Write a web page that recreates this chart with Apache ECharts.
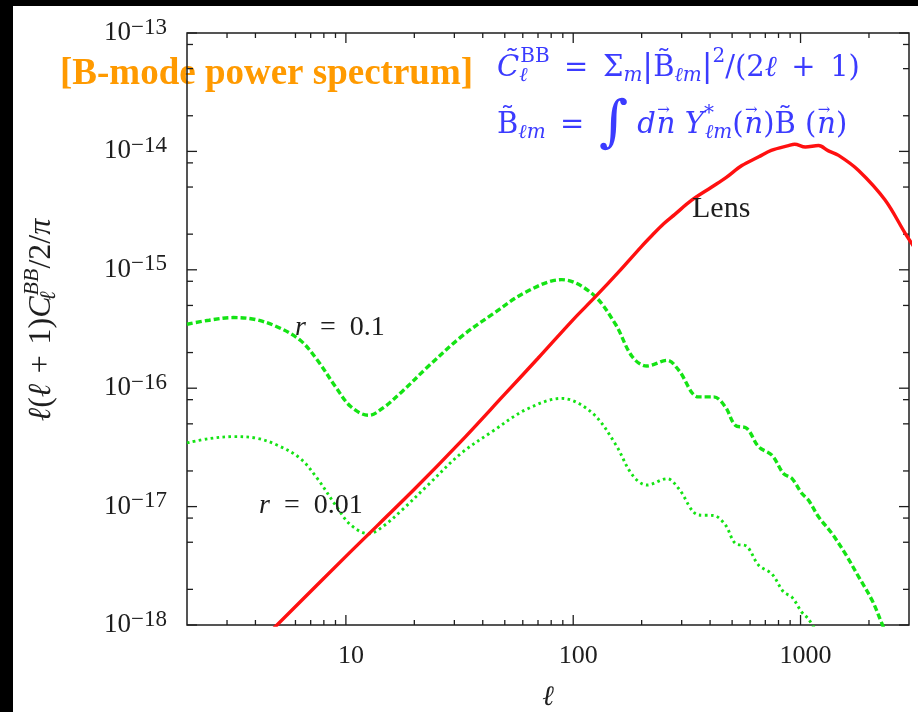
<!DOCTYPE html>
<html>
<head>
<meta charset="utf-8">
<title>B-mode power spectrum</title>
<script src="https://cdn.jsdelivr.net/npm/echarts@6.0.0/dist/echarts.min.js"></script>
<style>
  html, body { margin: 0; padding: 0; background: #ffffff; }
  #chart { width: 918px; height: 712px; }
</style>
</head>
<body>
<div id="chart"></div>
<script>
// Lensing B-mode spectrum, l(l+1)C_l^BB/2/pi
const ellLens = [4.6, 10, 20, 31.4, 50, 70, 100, 125, 160, 200, 222, 250, 280, 332, 407, 470, 552, 655, 743, 885, 942, 1050, 1200, 1327, 1470, 1800, 2350, 2900, 3200];
const lensPower = [8.6e-19, 3.8e-18, 1.4e-17, 3.4e-17, 8.9e-17, 1.79e-16, 3.8e-16, 5.9e-16, 9.8e-16, 1.58e-15, 1.95e-15, 2.45e-15, 2.94e-15, 3.87e-15, 5.0e-15, 6.0e-15, 7.6e-15, 9.0e-15, 1.02e-14, 1.12e-14, 1.15e-14, 1.09e-14, 1.12e-14, 1.01e-14, 9.25e-15, 6.9e-15, 3.9e-15, 2.0e-15, 1.5e-15];

// Primordial (tensor) B-modes, r = 0.1
const ellR01 = [2, 2.5, 3.2, 4, 5, 6.3, 7.5, 9, 10.5, 12.6, 14.7, 17.6, 22.8, 32, 44, 62, 89, 121, 153, 182, 211, 259, 291, 356, 415, 467, 516, 581, 654, 748, 842, 916, 1014, 1085, 1200, 1373, 1573, 1800, 2060, 2279, 2450];
const r01Power = [3.47e-16, 3.75e-16, 3.95e-16, 3.8e-16, 3.29e-16, 2.54e-16, 1.72e-16, 1.03e-16, 7.0e-17, 5.9e-17, 6.9e-17, 9.3e-17, 1.5e-16, 2.7e-16, 4.2e-16, 6.5e-16, 8.26e-16, 6.3e-16, 3.5e-16, 1.84e-16, 1.54e-16, 1.72e-16, 1.42e-16, 8.45e-17, 8.45e-17, 6.95e-17, 4.87e-17, 4.57e-17, 3.2e-17, 2.72e-17, 1.9e-17, 1.73e-17, 1.29e-17, 1.13e-17, 8.2e-18, 5.94e-18, 4.0e-18, 2.56e-18, 1.63e-18, 1.03e-18, 7.2e-19];

// Primordial (tensor) B-modes, r = 0.01
const ellR001 = [2, 2.5, 3.2, 4, 5, 6.3, 7.5, 9, 10.5, 12.6, 14.7, 17.6, 22.8, 32, 44, 62, 89, 121, 153, 182, 211, 259, 291, 356, 415, 467, 516, 581, 654, 748, 842, 916, 1014, 1085, 1200];
const r001Power = [3.45e-17, 3.75e-17, 3.9e-17, 3.8e-17, 3.3e-17, 2.55e-17, 1.72e-17, 1.03e-17, 7.0e-18, 5.9e-18, 6.9e-18, 9.3e-18, 1.5e-17, 2.8e-17, 4.3e-17, 6.6e-17, 8.2e-17, 6.2e-17, 3.4e-17, 1.85e-17, 1.52e-17, 1.72e-17, 1.42e-17, 8.5e-18, 8.4e-18, 7.0e-18, 4.9e-18, 4.6e-18, 3.2e-18, 2.7e-18, 1.9e-18, 1.72e-18, 1.28e-18, 1.12e-18, 8.2e-19];

// Tick positions on the log axes
const xMajorTicks = [10, 100, 1000];
const xMinorTicks = [3, 4, 6, 7, 8, 9, 20, 30, 40, 50, 60, 70, 80, 90, 200, 300, 400, 500, 600, 700, 800, 900, 2000];
const yMajorTicks = [1e-18, 1e-17, 1e-16, 1e-15, 1e-14, 1e-13];
const yMinorTicks = [2e-18, 5e-18, 8e-18, 2e-17, 5e-17, 8e-17, 2e-16, 5e-16, 8e-16, 2e-15, 5e-15, 8e-15, 2e-14, 5e-14, 8e-14];

const X_MIN = 2, X_MAX = 3000, Y_MIN = 1e-18, Y_MAX = 1e-13;

const SERIF = "'Liberation Serif', serif";
const MATH = "'DejaVu Serif', 'Liberation Serif', serif";
const INK = '#1e1e1e';
const GREEN = '#14e314';
const RED = '#ff1010';
const BLUE = '#3b3bff';
const ORANGE = '#ff9a00';

const zip = (xs, ys) => ys.map((y, i) => [xs[i], y]);

// tick marks on all four sides of the frame
const tickData = [];
xMajorTicks.forEach(v => tickData.push([v, Y_MIN, 0]));
xMinorTicks.forEach(v => tickData.push([v, Y_MIN, 1]));
yMajorTicks.forEach(v => tickData.push([X_MIN, v, 2]));
yMinorTicks.forEach(v => tickData.push([X_MIN, v, 3]));

function renderTick(params, api) {
  const kind = api.value(2);
  const cs = params.coordSys;
  const style = { stroke: INK, lineWidth: 1.3 };
  if (kind < 2) {
    const px = api.coord([api.value(0), Y_MIN])[0];
    const len = kind === 0 ? 10 : 5;
    const bottom = cs.y + cs.height, top = cs.y;
    return { type: 'group', children: [
      { type: 'line', shape: { x1: px, y1: bottom, x2: px, y2: bottom - len }, style },
      { type: 'line', shape: { x1: px, y1: top, x2: px, y2: top + len }, style }
    ] };
  }
  const py = api.coord([X_MIN, api.value(1)])[1];
  const len = kind === 2 ? 10 : 6;
  const left = cs.x, right = cs.x + cs.width;
  return { type: 'group', children: [
    { type: 'line', shape: { x1: left, y1: py, x2: left + len, y2: py }, style },
    { type: 'line', shape: { x1: right, y1: py, x2: right - len, y2: py }, style }
  ] };
}

// rich-text styles for the formulas (sup raised / sub lowered through padding)
const mathRich = {
  n: { fontFamily: MATH, fontSize: 29, fill: BLUE },
  i: { fontFamily: MATH, fontSize: 29, fontStyle: 'italic', fill: BLUE },
  sp: { fontFamily: MATH, fontSize: 20, fill: BLUE, padding: [0, 0, 22, 0] },
  spw: { fontFamily: MATH, fontSize: 20, fill: BLUE, padding: [0, 0, 22, 0], width: 1 },
  sb: { fontFamily: MATH, fontSize: 20, fontStyle: 'italic', fill: BLUE, padding: [16, 0, 0, 0] },
  sbw: { fontFamily: MATH, fontSize: 20, fontStyle: 'italic', fill: BLUE, padding: [16, 0, 0, 0], width: 1 },
  arw: { fontFamily: MATH, fontSize: 15, fill: BLUE, padding: [0, 0, 30, 0], width: 1 },
  bar: { fontFamily: MATH, fontSize: 32, fill: BLUE },
  int: { fontFamily: MATH, fontSize: 56, fill: BLUE }
};

const labelRich = {
  i: { fontFamily: SERIF, fontSize: 28, fontStyle: 'italic', fill: INK },
  n: { fontFamily: SERIF, fontSize: 28, fill: INK }
};

const yTitleRich = {
  i: { fontFamily: SERIF, fontSize: 32, fontStyle: 'italic', fill: INK },
  n: { fontFamily: SERIF, fontSize: 32, fill: INK },
  sp: { fontFamily: SERIF, fontSize: 22, fontStyle: 'italic', fill: INK, padding: [0, 0, 20, 0] },
  sbw: { fontFamily: SERIF, fontSize: 22, fontStyle: 'italic', fill: INK, padding: [14, 0, 0, 0], width: 1 }
};

const chart = echarts.init(document.getElementById('chart'), null, { renderer: 'canvas' });

chart.setOption({
  backgroundColor: '#ffffff',
  animation: false,
  grid: {
    left: 187, right: 9, top: 33, bottom: 87,
    outerBoundsMode: 'none', containLabel: false,
    show: true, borderColor: INK, borderWidth: 1.5,
    backgroundColor: 'transparent', z: 3
  },
  xAxis: {
    type: 'log', logBase: 10, min: X_MIN, max: X_MAX,
    axisLine: { show: false }, axisTick: { show: false },
    splitLine: { show: false }, minorTick: { show: false },
    axisLabel: {
      margin: 18, fontFamily: SERIF, fontSize: 26, color: INK, padding: [0, 0, 0, 10],
      formatter: v => {
        const e = Math.log10(v);
        return Math.abs(e - Math.round(e)) < 1e-6 ? String(Math.round(v)) : '';
      }
    },
    name: '\u2113', nameLocation: 'middle', nameGap: 59,
    nameTextStyle: { fontFamily: SERIF, fontStyle: 'italic', fontSize: 28, color: INK }
  },
  yAxis: {
    type: 'log', logBase: 10, min: Y_MIN, max: Y_MAX,
    axisLine: { show: false }, axisTick: { show: false },
    splitLine: { show: false }, minorTick: { show: false },
    axisLabel: {
      margin: 20,
      formatter: v => '{b|10}{s|\u2212' + (-Math.round(Math.log10(v))) + '}',
      rich: {
        b: { fontFamily: SERIF, fontSize: 27, color: INK },
        s: { fontFamily: SERIF, fontSize: 23, color: INK, padding: [0, 0, 11, 0] }
      }
    }
  },
  series: [
    {
      type: 'custom', name: 'ticks', data: tickData, renderItem: renderTick,
      encode: { x: 0, y: 1 }, clip: false, silent: true
    },
    {
      type: 'line', name: 'r = 0.1', data: zip(ellR01, r01Power),
      symbol: 'none', smooth: 0.35, clip: true, silent: true,
      lineStyle: { color: GREEN, width: 3.4, type: [6, 3], cap: 'butt' }
    },
    {
      type: 'line', name: 'r = 0.01', data: zip(ellR001, r001Power),
      symbol: 'none', smooth: 0.35, clip: true, silent: true,
      lineStyle: { color: GREEN, width: 2.9, type: [2.6, 3.4], cap: 'butt' }
    },
    {
      type: 'line', name: 'Lens', data: zip(ellLens, lensPower),
      symbol: 'none', smooth: 0.35, clip: true, silent: true,
      lineStyle: { color: RED, width: 3.4 }
    }
  ],
  graphic: [
    { type: 'rect', shape: { x: 0, y: 0, width: 13, height: 712 }, style: { fill: '#000' }, z: 10, silent: true },
    { type: 'rect', shape: { x: 0, y: 0, width: 918, height: 6 }, style: { fill: '#000' }, z: 10, silent: true },
    {
      type: 'text', x: 60, y: 74, z: 1, silent: true,
      style: { text: '[B-mode power spectrum]', fontFamily: SERIF, fontWeight: 'bold', fontSize: 37, fill: ORANGE, align: 'left', verticalAlign: 'middle' }
    },
    {
      type: 'text', x: 497, y: 68, z: 5, silent: true,
      style: {
        text: '{i|C\u0303}{sbw|\u2113}{sp|BB}{n|\u2002=\u2002\u03a3}{sb|m}{bar||}{n|B\u0303}{sb|\u2113m}{bar||}{sp|2}{n|/(2}{i|\u2113}{n|\u2002+\u20021)}',
        rich: mathRich, align: 'left', verticalAlign: 'middle'
      }
    },
    {
      type: 'text', x: 497, y: 125, z: 5, silent: true,
      style: {
        text: '{n|B\u0303}{sb|\u2113m}{n|\u2002=\u2002}{int|\u222b}{n| }{i|d}{arw|\u200a\u2192}{i|n}{n| }{i|Y}{spw|*}{sb|\u2113m}{n|(}{arw|\u200a\u2192}{i|n}{n|)B\u0303 (}{arw|\u200a\u2192}{i|n}{n|)}',
        rich: mathRich, align: 'left', verticalAlign: 'middle'
      }
    },
    {
      type: 'text', x: 295, y: 328, z: 5, silent: true,
      style: { text: '{i|r}{n|\u2002=\u20020.1}', rich: labelRich, align: 'left', verticalAlign: 'middle' }
    },
    {
      type: 'text', x: 259, y: 506, z: 5, silent: true,
      style: { text: '{i|r}{n|\u2002=\u20020.01}', rich: labelRich, align: 'left', verticalAlign: 'middle' }
    },
    {
      type: 'text', x: 692, y: 209, z: 5, silent: true,
      style: { text: 'Lens', fontFamily: SERIF, fontSize: 30, fill: INK, align: 'left', verticalAlign: 'middle' }
    },
    {
      type: 'text', x: 42, y: 320, rotation: Math.PI / 2, z: 5, silent: true,
      style: {
        text: '{i|\u2113}{n|(}{i|\u2113}{n|\u2004+\u20041)}{i|C}{sbw|\u2113}{sp|BB}{n|/2/}{i|\u03c0}',
        rich: yTitleRich, align: 'center', verticalAlign: 'middle'
      }
    }
  ]
});
</script>
</body>
</html>
